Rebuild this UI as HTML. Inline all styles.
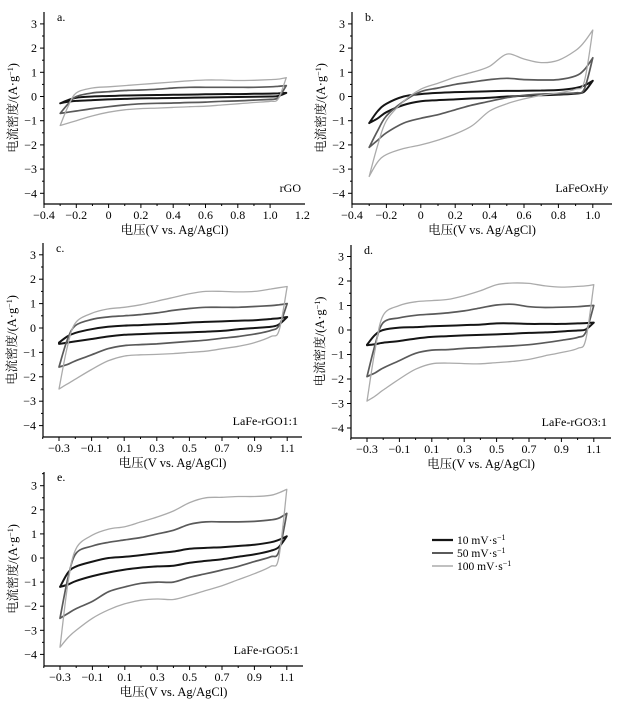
<!DOCTYPE html>
<html><head><meta charset="utf-8"><style>
html,body{margin:0;padding:0;background:#fff;}
svg{display:block;font-family:"Liberation Serif","Noto Serif CJK SC",serif;}
</style></head><body>
<svg id="fig" width="625" height="704" viewBox="0 0 625 704" xmlns="http://www.w3.org/2000/svg"></svg>
<script>
// ---- data ----
const gridA = [-0.3,-0.25,-0.2,-0.1,0,0.1,0.2,0.3,0.4,0.5,0.6,0.7,0.8,0.9,1.0,1.05,1.1];
const gridB = [-0.3,-0.25,-0.2,-0.1,0,0.1,0.2,0.3,0.4,0.5,0.6,0.7,0.8,0.9,0.95,1.0];
const rates = ["10 mV·s⁻¹","50 mV·s⁻¹","100 mV·s⁻¹"];
const a10u=[-0.28,-0.15,-0.05,0,0.02,0.04,0.05,0.06,0.07,0.08,0.09,0.1,0.1,0.11,0.12,0.13,0.15];
const a10l=[-0.28,-0.22,-0.18,-0.15,-0.12,-0.1,-0.08,-0.07,-0.06,-0.05,-0.04,-0.03,-0.02,-0.01,0,0.02,0.15];
const a50u=[-0.7,-0.3,0,0.15,0.2,0.25,0.27,0.3,0.35,0.38,0.38,0.38,0.38,0.38,0.4,0.42,0.45];
const a50l=[-0.7,-0.65,-0.6,-0.5,-0.42,-0.35,-0.3,-0.28,-0.27,-0.25,-0.23,-0.2,-0.18,-0.15,-0.12,-0.05,0.45];
const a100u=[-1.2,-0.4,0.15,0.35,0.4,0.45,0.5,0.55,0.6,0.65,0.68,0.68,0.66,0.67,0.7,0.72,0.78];
const a100l=[-1.2,-1.1,-1.0,-0.8,-0.65,-0.55,-0.5,-0.48,-0.45,-0.42,-0.4,-0.35,-0.3,-0.25,-0.2,-0.1,0.78];
const b10u=[-1.1,-0.6,-0.3,0,0.1,0.15,0.18,0.2,0.22,0.23,0.24,0.25,0.27,0.35,0.45,0.65];
const b10l=[-1.1,-0.9,-0.65,-0.35,-0.2,-0.15,-0.12,-0.08,-0.05,0,0.03,0.05,0.08,0.12,0.2,0.65];
const b50u=[-2.1,-1.4,-0.8,-0.2,0.2,0.35,0.5,0.6,0.7,0.75,0.7,0.68,0.7,0.85,1.1,1.6];
const b50l=[-2.1,-1.8,-1.5,-1.1,-0.9,-0.75,-0.55,-0.35,-0.2,-0.05,0.05,0.1,0.12,0.15,0.3,1.6];
const b100u=[-3.3,-2.0,-1.0,-0.2,0.3,0.55,0.8,1.0,1.25,1.75,1.55,1.4,1.5,1.9,2.25,2.75];
const b100l=[-3.3,-2.7,-2.4,-2.15,-2.0,-1.8,-1.55,-1.2,-0.6,-0.3,-0.1,0.05,0.15,0.3,0.6,2.75];
const c10u=[-0.6,-0.35,-0.2,-0.05,0.05,0.1,0.12,0.15,0.18,0.22,0.25,0.27,0.3,0.32,0.37,0.4,0.45];
const c10l=[-0.65,-0.6,-0.55,-0.45,-0.35,-0.28,-0.25,-0.22,-0.2,-0.18,-0.15,-0.12,-0.05,0.0,0.05,0.15,0.45];
const c50u=[-1.6,-0.5,0.1,0.35,0.45,0.5,0.55,0.62,0.72,0.8,0.85,0.85,0.85,0.88,0.92,0.95,1.0];
const c50l=[-1.6,-1.5,-1.35,-1.1,-0.85,-0.72,-0.68,-0.65,-0.6,-0.55,-0.5,-0.42,-0.35,-0.25,-0.1,0.1,1.0];
const c100u=[-2.5,-0.8,0.2,0.6,0.78,0.85,0.95,1.1,1.25,1.4,1.5,1.5,1.48,1.5,1.6,1.65,1.7];
const c100l=[-2.5,-2.3,-2.1,-1.7,-1.35,-1.15,-1.1,-1.08,-1.05,-1.0,-0.95,-0.85,-0.75,-0.6,-0.35,-0.1,1.7];
const d10u=[-0.6,-0.2,0,0.1,0.12,0.15,0.17,0.2,0.22,0.27,0.27,0.25,0.25,0.25,0.27,0.28,0.3];
const d10l=[-0.62,-0.58,-0.52,-0.45,-0.35,-0.28,-0.25,-0.22,-0.2,-0.18,-0.15,-0.12,-0.1,-0.06,-0.02,0.02,0.3];
const d50u=[-1.9,-0.6,0.3,0.5,0.6,0.65,0.7,0.78,0.9,1.02,1.05,0.95,0.92,0.93,0.95,0.98,1.0];
const d50l=[-1.9,-1.75,-1.55,-1.25,-0.95,-0.82,-0.8,-0.75,-0.72,-0.68,-0.65,-0.6,-0.52,-0.42,-0.3,-0.1,1.0];
const d100u=[-2.9,-0.8,0.6,1.0,1.15,1.2,1.25,1.4,1.6,1.85,1.92,1.9,1.8,1.75,1.78,1.8,1.85];
const d100l=[-2.9,-2.7,-2.45,-2.0,-1.6,-1.38,-1.35,-1.37,-1.38,-1.33,-1.28,-1.2,-1.05,-0.92,-0.75,-0.4,1.85];
const e10u=[-1.2,-0.6,-0.35,-0.15,0,0.05,0.12,0.2,0.27,0.38,0.42,0.45,0.5,0.55,0.65,0.75,0.9];
const e10l=[-1.2,-1.1,-0.95,-0.75,-0.6,-0.48,-0.4,-0.35,-0.32,-0.2,-0.12,-0.05,0.05,0.15,0.3,0.45,0.9];
const e50u=[-2.5,-0.8,0.2,0.5,0.65,0.75,0.85,1.0,1.15,1.4,1.5,1.5,1.5,1.52,1.58,1.65,1.85];
const e50l=[-2.5,-2.3,-2.1,-1.8,-1.4,-1.2,-1.05,-1.0,-1.0,-0.8,-0.65,-0.5,-0.35,-0.15,0.05,0.25,1.85];
const e100u=[-3.7,-1.0,0.4,0.95,1.2,1.3,1.5,1.7,1.95,2.3,2.5,2.52,2.55,2.55,2.6,2.7,2.85];
const e100l=[-3.7,-3.3,-3.0,-2.5,-2.15,-1.9,-1.75,-1.7,-1.72,-1.55,-1.35,-1.15,-0.9,-0.65,-0.35,0.0,2.85];
const yTicks=[-4,-3,-2,-1,0,1,2,3];
const xTicksA=[-0.4,-0.2,0,0.2,0.4,0.6,0.8,1.0,1.2];
const xTicksB=[-0.4,-0.2,0,0.2,0.4,0.6,0.8,1.0];
const xTicksC=[-0.3,-0.1,0.1,0.3,0.5,0.7,0.9,1.1];

const NS="http://www.w3.org/2000/svg";
const svg=document.getElementById('fig');
const colors=["#151515","#5a5a5a","#ababab"];
const widths=[2,1.7,1.3];
function mk(tag,attrs,parent){const e=document.createElementNS(NS,tag);for(const k in attrs)e.setAttribute(k,attrs[k]);(parent||svg).appendChild(e);return e;}
function fmt(v){return (v<0?"−":"")+Math.abs(v).toFixed(1).replace(/^0\.0$/,"0");}
function smooth(pts){let d="M"+pts[0][0].toFixed(1)+","+pts[0][1].toFixed(1);
 for(let i=0;i<pts.length-1;i++){const p0=pts[Math.max(0,i-1)],p1=pts[i],p2=pts[i+1],p3=pts[Math.min(pts.length-1,i+2)];
  const c1=[p1[0]+(p2[0]-p0[0])/6,p1[1]+(p2[1]-p0[1])/6],c2=[p2[0]-(p3[0]-p1[0])/6,p2[1]-(p3[1]-p1[1])/6];
  d+="C"+c1.map(n=>n.toFixed(1))+" "+c2.map(n=>n.toFixed(1))+" "+p2.map(n=>n.toFixed(1));}
 return d;}

const panels=[
 {id:"a",label:"a.",name:"rGO",xL:44,xR:305,yT:12,yB:204,x0:-0.4,xo:44,xs:161.5,yo:96.5,ys:24.2,grid:gridA,xt:xTicksA,zeroX:true,series:[[a10u,a10l],[a50u,a50l],[a100u,a100l]]},
 {id:"b",label:"b.",name:"LaFeOxHy",xL:352,xR:612,yT:12,yB:204,x0:-0.4,xo:352,xs:172,yo:96.5,ys:24.2,grid:gridB,xt:xTicksB,zeroX:true,series:[[b10u,b10l],[b50u,b50l],[b100u,b100l]]},
 {id:"c",label:"c.",name:"LaFe-rGO1:1",xL:43,xR:302,yT:243,yB:437,x0:-0.3,xo:59,xs:163,yo:328,ys:24.4,grid:gridA,xt:xTicksC,series:[[c10u,c10l],[c50u,c50l],[c100u,c100l]]},
 {id:"d",label:"d.",name:"LaFe-rGO3:1",xL:351,xR:611,yT:245,yB:438,x0:-0.3,xo:367,xs:162,yo:330,ys:24.5,grid:gridA,xt:xTicksC,series:[[d10u,d10l],[d50u,d50l],[d100u,d100l]]},
 {id:"e",label:"e.",name:"LaFe-rGO5:1",xL:44,xR:303,yT:472,yB:666,x0:-0.3,xo:60,xs:162,yo:558,ys:24.1,grid:gridA,xt:xTicksC,series:[[e10u,e10l],[e50u,e50l],[e100u,e100l]]}
];

panels.forEach(p=>{
 const g=mk('g',{});
 
 
 const X=v=>p.xo+(v-p.x0)*p.xs, Y=v=>p.yo-v*p.ys;
 // series
 p.series.forEach((s,si)=>{
  const up=p.grid.map((v,i)=>[X(v),Y(s[0][i])]);
  const lo=p.grid.map((v,i)=>[X(v),Y(s[1][i])]).reverse();
  const path=mk('path',{d:smooth(up)+" "+smooth(lo).replace(/^M/,"L")+"Z",fill:"none",stroke:colors[si],"stroke-width":widths[si],"stroke-linejoin":"round"},g);
  
  
 });
 // axes
 const ax=mk('path',{d:`M${p.xL},${p.yT}V${p.yB}H${p.xR}`,fill:"none",stroke:"#000","stroke-width":1.2},g);
 
 
 for(let v=-4.5;v<=3.5;v+=0.5){const y=Y(v);if(y<p.yT||y>p.yB)continue;const major=Math.abs(v%1)<1e-6;
  mk('line',{x1:p.xL,x2:p.xL-(major?4:2),y1:y,y2:y,stroke:"#000","stroke-width":1},g);}
 yTicks.forEach(v=>{const t=mk('text',{x:p.xL-7,y:Y(v)+4,"text-anchor":"end","font-size":12},g);t.textContent=(v<0?"−":"")+Math.abs(v);
  });
 for(let k=-6;k<=14;k++){const v=p.x0+k*0.1;const x=X(v);if(x<p.xL-0.5||x>p.xR)continue;
  const major=p.xt.some(t=>Math.abs(t-v)<1e-6);mk('line',{x1:x,x2:x,y1:p.yB,y2:p.yB+(major?4:2),stroke:"#000","stroke-width":1},g);}
 p.xt.forEach(v=>{const t=mk('text',{x:X(v),y:p.yB+15,"text-anchor":"middle","font-size":12},g);t.textContent=fmt(v);
  });
 const mid=(p.xL+p.xR)/2;
 const xt=mk('text',{x:mid,y:p.yB+30,"text-anchor":"middle","font-size":12.5},g);xt.textContent="电压(V vs. Ag/AgCl)";
 
 const ym=(p.yT+p.yB)/2, yx=p.xL-27;
 const yt=mk('text',{x:yx,y:ym,"text-anchor":"middle","font-size":12.5,transform:`rotate(-90 ${yx} ${ym})`},g);
 yt.innerHTML='电流密度/(A·g<tspan baseline-shift="super" font-size="8">−1</tspan>)';
 
 const pl=mk('text',{x:p.xL+13,y:p.yT+9,"font-size":12},g);pl.textContent=p.label;
 
 const sn=mk('text',{x:p.xR-4,y:p.yB-12,"text-anchor":"end","font-size":12},g);
 if(p.id==="b"){sn.innerHTML='LaFeO<tspan font-style="italic">x</tspan>H<tspan font-style="italic">y</tspan>';}else sn.textContent=p.name;
 
});

// legend
const lg=mk('g',{});


rates.forEach((r,i)=>{const y=540+i*13;
 const l=mk('line',{x1:432,x2:453,y1:y,y2:y,stroke:colors[i],"stroke-width":widths[i]+0.3},lg);
 
 const t=mk('text',{x:457,y:y+4,"font-size":11.5},lg);
 t.innerHTML=r.split(' ')[0]+' mV·s<tspan baseline-shift="super" font-size="8">−1</tspan>';
 
});
</script>
</body></html>
